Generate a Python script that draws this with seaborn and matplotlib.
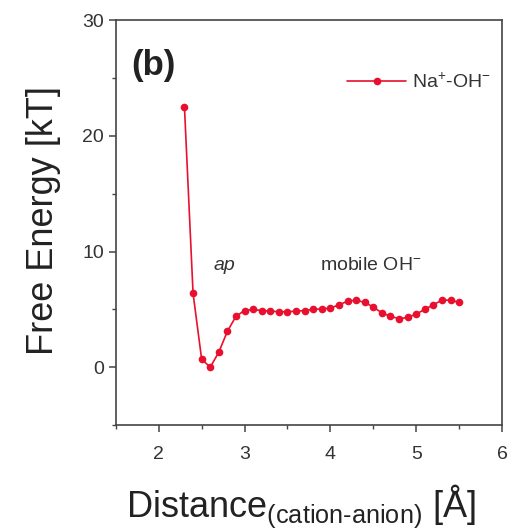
import matplotlib
matplotlib.use("Agg")
import matplotlib.pyplot as plt
import seaborn as sns
import pandas as pd
from matplotlib.ticker import MultipleLocator

# Free-energy profile of the Na+ / OH- ion pair
distance = [2.3, 2.4, 2.5, 2.6, 2.7, 2.8, 2.9, 3.0, 3.1, 3.2, 3.3, 3.4, 3.5,
            3.6, 3.7, 3.8, 3.9, 4.0, 4.1, 4.2, 4.3, 4.4, 4.5, 4.6, 4.7, 4.8,
            4.9, 5.0, 5.1, 5.2, 5.3, 5.4, 5.5]
free_energy = [22.5, 6.4, 0.7, 0.0, 1.3, 3.1, 4.4, 4.9, 5.0, 4.9, 4.85, 4.8,
               4.8, 4.85, 4.9, 5.0, 5.05, 5.1, 5.4, 5.7, 5.8, 5.6, 5.2, 4.7,
               4.4, 4.2, 4.3, 4.6, 5.0, 5.4, 5.8, 5.8, 5.6]
series_name = "Na$^{+}$-OH$^{-}$"

df = pd.DataFrame({"distance": distance, "energy": free_energy})

sns.set_style("ticks")
plt.rcParams["font.family"] = ["Liberation Sans", "DejaVu Sans"]
plt.rcParams["mathtext.fontset"] = "custom"
plt.rcParams["mathtext.rm"] = "Liberation Sans"
plt.rcParams["mathtext.it"] = "Liberation Sans:italic"

fig = plt.figure(figsize=(5.17, 5.32), dpi=100)
ax = fig.add_axes([0.224, 0.201, 0.747, 0.761])

red = "#e8102e"
sns.lineplot(data=df, x="distance", y="energy", ax=ax, color=red,
             marker="o", markersize=5.5, markeredgewidth=0, linewidth=1.2,
             label=series_name)

ax.set_xlim(1.5, 6.0)
ax.set_ylim(-5, 30)
ax.xaxis.set_major_locator(MultipleLocator(1))
ax.xaxis.set_minor_locator(MultipleLocator(0.5))
ax.yaxis.set_major_locator(MultipleLocator(10))
ax.yaxis.set_minor_locator(MultipleLocator(5))

for s in ax.spines.values():
    s.set_visible(True)
    s.set_color("#444444")
    s.set_linewidth(1.2)
ax.tick_params(which="major", direction="out", length=5, width=1.1,
               colors="#444444", labelsize=14, labelcolor="#333333")
ax.tick_params(axis="x", which="major", pad=10)
ax.tick_params(which="minor", direction="out", length=3, width=1.0,
               colors="#444444")

ax.set_xlabel("Distance$_{\\mathrm{(cation\\text{-}anion)}}$ [Å]",
              fontsize=26, color="#222222", labelpad=14)
ax.xaxis.label.set_x(0.48)
ax.set_ylabel("Free Energy [kT]", fontsize=26, color="#222222", labelpad=15)
ax.yaxis.label.set_y(0.505)

ax.text(0.04, 0.865, "(b)", transform=ax.transAxes, fontsize=25,
        fontweight="bold", color="#222222")
ax.text(2.77, 8.8, "ap", fontsize=14, style="italic", color="#333333",
        ha="center", va="center")
ax.text(4.47, 8.8, "mobile OH$^{-}$", fontsize=14, color="#333333",
        ha="center", va="center")

leg = ax.legend(loc="upper right", bbox_to_anchor=(1.0, 0.90), frameon=False,
                fontsize=14, handlelength=3.0, handletextpad=0.3,
                borderaxespad=0.2)
for t in leg.get_texts():
    t.set_color("#333333")

fig.savefig("out.png", dpi=100)
